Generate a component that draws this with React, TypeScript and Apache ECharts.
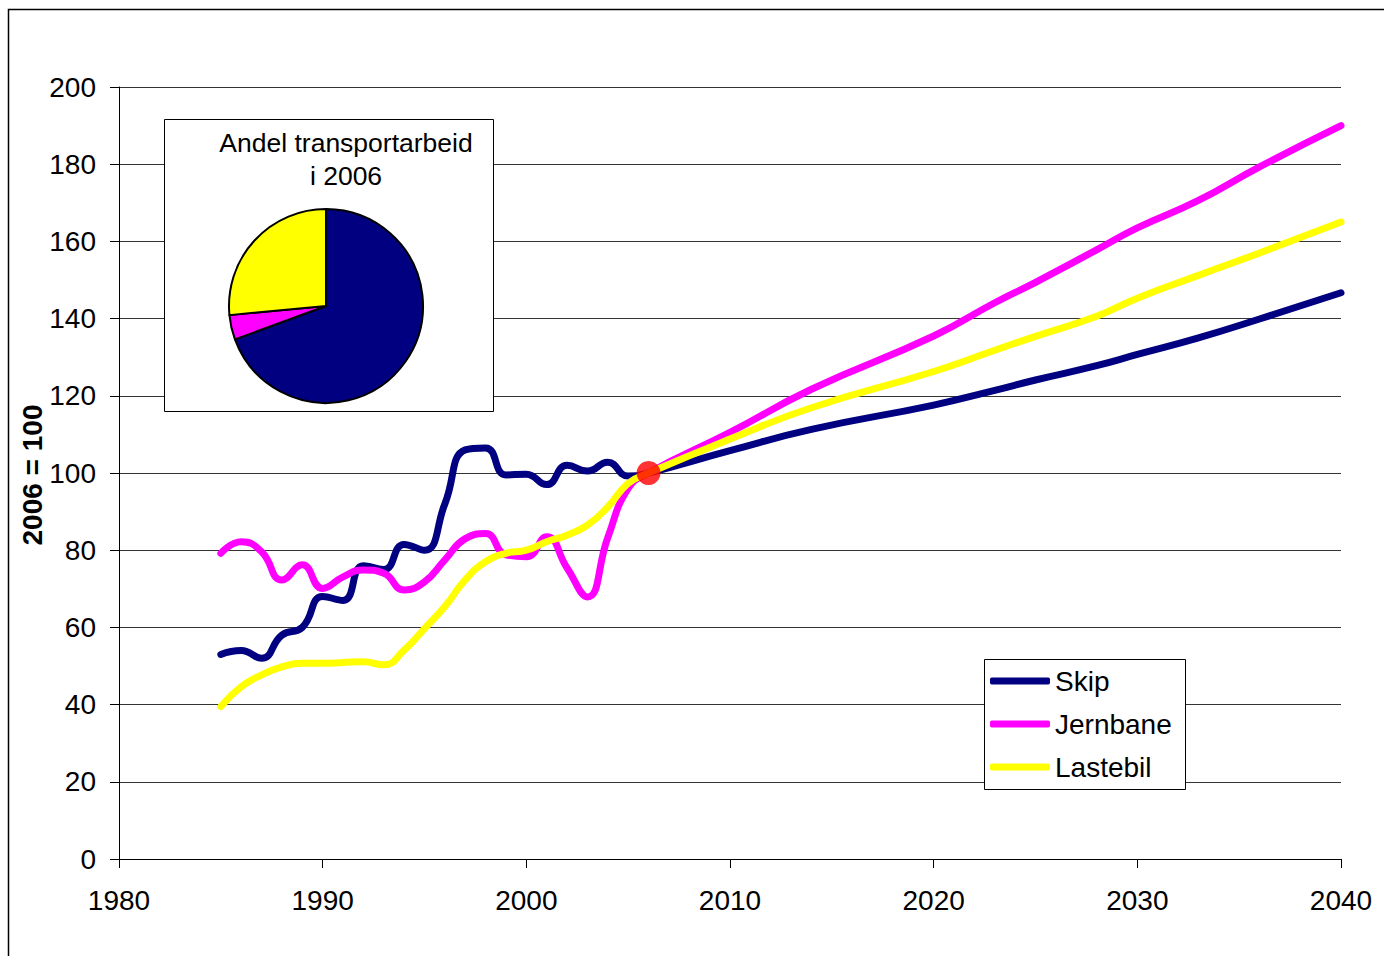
import React, { useEffect, useRef } from "react";
import * as echarts from "echarts";

const histYears = [1985, 1986, 1987, 1988, 1989, 1990, 1991, 1992, 1993, 1994, 1995, 1996, 1997, 1998, 1999, 2000, 2001, 2002, 2003, 2004, 2005, 2006];
const skipHist = [53, 54, 52, 58, 60, 68, 67, 76, 75, 81.5, 80, 92, 106, 106.5, 99.5, 99.7, 97, 102, 100.5, 102.8, 99.2, 100];
const jernbaneHist = [79.2, 82.2, 79.6, 72.3, 76.2, 70.1, 73.1, 74.9, 74.0, 69.7, 71.8, 77.5, 83, 84.3, 78.8, 78.3, 83.5, 75.4, 67.9, 83.3, 96, 100];
const lastebilHist = [39.5, 44.6, 47.7, 49.8, 50.7, 50.7, 50.9, 51.1, 50.3, 54.1, 59.7, 65.4, 72.3, 77, 79.2, 80, 82.2, 83.9, 86.5, 91.2, 97.3, 100];

const projYears = [2010, 2014, 2020, 2023, 2025, 2028, 2030, 2033, 2036, 2040];
const skipProj = [105.8, 111.3, 117.6, 121.4, 124.1, 127.8, 130.7, 135, 139.9, 146.7];
const jernbaneProj = [110.5, 121.7, 135.5, 144.1, 149.4, 157.8, 163.5, 170.6, 179.3, 190];
const lastebilProj = [108.8, 116.9, 126.3, 131.8, 135.4, 140.6, 145.3, 151.2, 157, 165];

const seriesNames = ["Skip", "Jernbane", "Lastebil"];
const seriesColors = ["#000080", "#FF00FF", "#FFFF00"];
const pieShares = [69.4, 4.1, 26.5];
const baseYear = 2006;
const baseValue = 100;

const pieTitle = "Andel transportarbeid\ni 2006";
const yAxisTitle = "2006 = 100";

const FONT = "'Liberation Sans', Arial, sans-serif";

function pairs(xs: number[], ys: number[]): number[][] {
  return xs.map((x, i) => [x, ys[i]]);
}

export default function App() {
  const ref = useRef<HTMLDivElement>(null);

  useEffect(() => {
    if (!ref.current) return;
    const chart = echarts.init(ref.current, null, { renderer: "svg" });
    const lineData = [
      pairs(histYears, skipHist).concat(pairs(projYears, skipProj)),
      pairs(histYears, jernbaneHist).concat(pairs(projYears, jernbaneProj)),
      pairs(histYears, lastebilHist).concat(pairs(projYears, lastebilProj)),
    ];

    const option: any = {
      animation: false,
      backgroundColor: "#ffffff",
      textStyle: { fontFamily: FONT },
      grid: { left: 119, right: 43, top: 87, bottom: 97, containLabel: false },
      xAxis: {
        type: "value",
        min: 1980,
        max: 2040,
        interval: 10,
        axisLine: { show: true, lineStyle: { color: "#000", width: 1 } },
        axisTick: { show: true, length: 9, lineStyle: { color: "#000", width: 1 } },
        axisLabel: {
          color: "#000",
          fontSize: 28,
          margin: 27,
          fontFamily: FONT,
          formatter: (v: number) => String(v),
        },
        splitLine: { show: false },
      },
      yAxis: {
        type: "value",
        min: 0,
        max: 200,
        interval: 20,
        axisLine: { show: true, lineStyle: { color: "#000", width: 1 } },
        axisTick: { show: true, length: 9, lineStyle: { color: "#000", width: 1 } },
        axisLabel: { color: "#000", fontSize: 28, margin: 23, fontFamily: FONT },
        splitLine: { show: true, lineStyle: { color: "#333", width: 1 } },
      },
      legend: {
        show: true,
        orient: "vertical",
        left: 985,
        top: 662,
        itemWidth: 60,
        itemHeight: 7,
        itemGap: 15,
        icon: "roundRect",
        data: seriesNames,
        textStyle: { color: "#000", fontSize: 28, fontFamily: FONT },
        selectedMode: false,
        z: 6,
      },
      graphic: [
        {
          type: "rect",
          z: 0,
          shape: { x: 8.5, y: 9.5, width: 1600, height: 1200 },
          style: { fill: "none", stroke: "#000", lineWidth: 1.5 },
        },
        {
          type: "rect",
          z: 1,
          shape: { x: 164.5, y: 119.5, width: 329, height: 292 },
          style: { fill: "#fff", stroke: "#000", lineWidth: 1 },
        },
        {
          type: "rect",
          z: 1,
          shape: { x: 984.5, y: 659.5, width: 201, height: 130 },
          style: { fill: "#fff", stroke: "#000", lineWidth: 1 },
        },
        {
          type: "text",
          z: 5,
          x: 346,
          y: 126,
          style: {
            text: pieTitle,
            fill: "#000",
            fontSize: 26.5,
            lineHeight: 33,
            fontFamily: FONT,
            align: "center",
            verticalAlign: "top",
          },
        },
        {
          type: "text",
          z: 5,
          x: 32,
          y: 475,
          rotation: Math.PI / 2,
          style: {
            text: yAxisTitle,
            fill: "#000",
            fontSize: 28,
            fontWeight: "bold",
            fontFamily: FONT,
            align: "center",
            verticalAlign: "middle",
          },
        },
      ],
      series: [
        ...seriesNames.map((name, i) => ({
          name,
          type: "line",
          data: lineData[i],
          smooth: 0.5,
          symbol: "none",
          showSymbol: false,
          color: seriesColors[i],
          lineStyle: { color: seriesColors[i], width: 7, cap: "round", join: "round" },
          z: 2 + i,
        })),
        {
          name: "base",
          type: "scatter",
          data: [[baseYear, baseValue]],
          symbol: "circle",
          symbolSize: 24,
          itemStyle: { color: "#FF0000" },
          z: 8,
        },
        {
          name: "Andel",
          type: "pie",
          center: [326, 306],
          radius: 97,
          startAngle: 90,
          clockwise: true,
          label: { show: false },
          labelLine: { show: false },
          emphasis: { disabled: true },
          itemStyle: { borderColor: "#000", borderWidth: 2 },
          data: seriesNames.map((name, i) => ({
            name,
            value: pieShares[i],
            itemStyle: { color: seriesColors[i] },
          })),
          z: 3,
        },
      ],
    };

    chart.setOption(option);
    return () => chart.dispose();
  }, []);

  return (
    <div
      ref={ref}
      style={{ position: "absolute", left: 0, top: 0, width: 1384, height: 956 }}
    />
  );
}
